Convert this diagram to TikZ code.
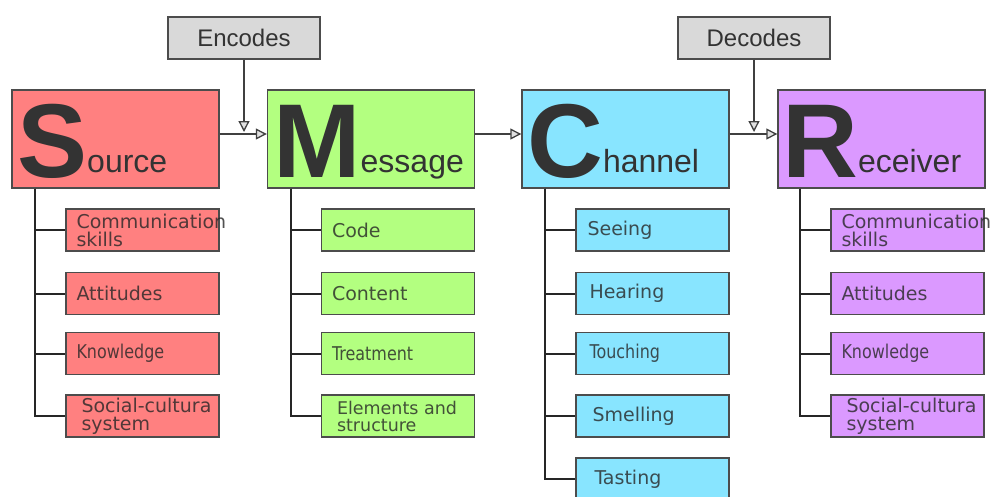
\documentclass[tikz,border=0pt]{standalone}
\usepackage{fontspec}
\setmainfont{Liberation Sans}
\newfontfamily\subfont{DejaVu Sans}
\newfontfamily\subcond[FakeStretch=0.84]{DejaVu Sans}
\usepackage{tikz}
\usetikzlibrary{positioning, arrows.meta}

\definecolor{srcred}{HTML}{FF8080}
\definecolor{msggreen}{HTML}{B3FF80}
\definecolor{chncyan}{HTML}{88E5FF}
\definecolor{rcvpurple}{HTML}{DB99FF}
\definecolor{boxgray}{HTML}{D9D9D9}

\newcommand{\headword}[2]{{\fontsize{105}{105}\selectfont\bfseries #1}{\fontsize{32}{32}\selectfont\raisebox{5pt}{#2}}}
\newcommand{\subnorm}{\subfont\fontsize{19}{18}\selectfont}
\newcommand{\subsmall}{\subfont\fontsize{17.5}{17}\selectfont}
\newcommand{\subnarrow}{\subcond\fontsize{19}{18}\selectfont}

\begin{document}
\begin{tikzpicture}[x=1pt, y=-1pt,
  mainbox/.style={draw=black!70, line width=1.4pt, minimum width=207pt, minimum height=98pt, inner sep=0pt},
  subbox/.style={draw=black!70, line width=1.4pt, minimum width=153pt, minimum height=42pt, inner sep=0pt},
  subtext/.style={anchor=west, inner sep=0pt, align=left, text=black!85, text opacity=0.8},
  headtext/.style={anchor=base west, inner sep=0pt, text=black!80},
  graybox/.style={draw=black!70, fill=boxgray, line width=1.4pt, minimum width=152pt, minimum height=42pt, text=black!80, font=\fontsize{24}{24}\selectfont},
  tree/.style={draw=black!85, line width=2pt},
  flow/.style={draw=black!75, line width=2pt, -{Triangle[length=11pt, width=11pt, fill=black!12, line width=1.3pt]}}]
\fill[white] (0,0) rectangle (993,496);
\useasboundingbox (0,0) rectangle (993,496);

% main stages
\node[mainbox, fill=srcred] (src) at (115.5,139) {};
\node[mainbox, fill=msggreen] (msg) at (371,139) {};
\node[mainbox, fill=chncyan] (chn) at (625.5,139) {};
\node[mainbox, fill=rcvpurple] (rcv) at (881.5,139) {};
\node[headtext] (srcT) at (17,177) {\headword{S}{ource}};
\node[headtext] (msgT) at (273,177) {\headword{M}{essage}};
\node[headtext] (chnT) at (527,177) {\headword{C}{hannel}};
\node[headtext] (rcvT) at (782,177) {\headword{R}{eceiver}};

% encoding and decoding
\node[graybox] (enc) at (244,38) {Encodes};
\node[graybox] (dec) at (754,38) {Decodes};
\coordinate (encT) at (enc.south |- 0,132);
\coordinate (decT) at (dec.south |- 0,132);

\draw[flow] ([yshift=5pt]src.east) -- ([yshift=5pt]msg.west);
\draw[flow] ([yshift=5pt]msg.east) -- ([yshift=5pt]chn.west);
\draw[flow] ([yshift=5pt]chn.east) -- ([yshift=5pt]rcv.west);
\draw[flow] (enc) -- (encT);
\draw[flow] (dec) -- (decT);

% source
\foreach \txt/\dx/\y/\fnt [count=\i] in {{Communication\\skills}/11/230/\subnorm, Attitudes/11/293.5/\subnorm, Knowledge/11/353.5/\subnarrow, {Social-cultura\\system}/16/416/\subnorm}{
  \node[subbox, fill=srcred] (src\i) at (142.5,\y) {};
  \node[subtext, font=\fnt] (srcL\i) at ([xshift=\dx pt]src\i.west) {\txt};
  \draw[tree] ([xshift=24pt]src.south west) |- (src\i.west);
}

% message
\foreach \txt/\dx/\y/\fnt [count=\i] in {Code/11/230/\subnorm, Content/11/293.5/\subnorm, Treatment/11/353.5/\subnarrow, {Elements and\\structure}/16/416/\subsmall}{
  \node[subbox, fill=msggreen] (msg\i) at (398,\y) {};
  \node[subtext, font=\fnt] (msgL\i) at ([xshift=\dx pt]msg\i.west) {\txt};
  \draw[tree] ([xshift=24pt]msg.south west) |- (msg\i.west);
}

% channel
\foreach \txt/\dx/\y/\fnt [count=\i] in {Seeing/12/230/\subnorm, Hearing/14/293.5/\subnorm, Touching/14/353.5/\subnarrow, Smelling/17/416/\subnorm, Tasting/19/479/\subnorm}{
  \node[subbox, fill=chncyan] (chn\i) at (652.5,\y) {};
  \node[subtext, font=\fnt] (chnL\i) at ([xshift=\dx pt]chn\i.west) {\txt};
  \draw[tree] ([xshift=24pt]chn.south west) |- (chn\i.west);
}

% receiver
\foreach \txt/\dx/\y/\fnt [count=\i] in {{Communication\\skills}/11/230/\subnorm, Attitudes/11/293.5/\subnorm, Knowledge/11/353.5/\subnarrow, {Social-cultura\\system}/16/416/\subnorm}{
  \node[subbox, fill=rcvpurple] (rcv\i) at (907.5,\y) {};
  \node[subtext, font=\fnt] (rcvL\i) at ([xshift=\dx pt]rcv\i.west) {\txt};
  \draw[tree] ([xshift=23pt]rcv.south west) |- (rcv\i.west);
}
\end{tikzpicture}
\end{document}
